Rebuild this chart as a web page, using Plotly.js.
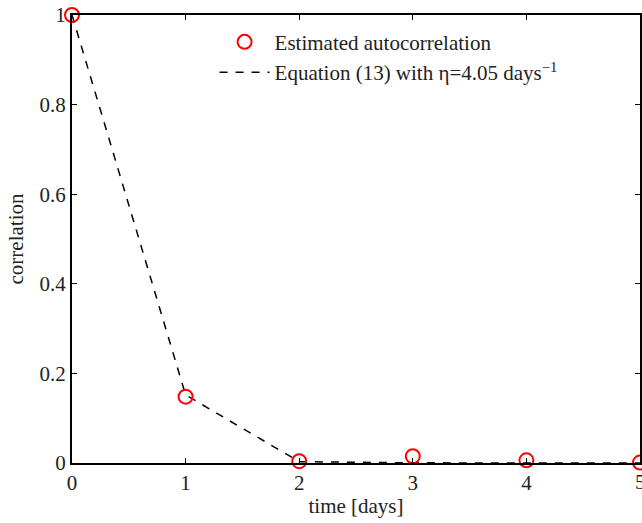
<!DOCTYPE html>
<html>
<head>
<meta charset="utf-8">
<script src="https://cdn.plot.ly/plotly-3.0.1.min.js"></script>
<style>html,body{margin:0;padding:0;background:#fff;}#plot{width:642px;height:523px;}</style>
</head>
<body>
<div id="plot"></div>
<script>
var timeDays = [0, 1, 2, 3, 4, 5];
var estimatedAutocorr = [1.0, 0.148, 0.004, 0.015, 0.006, 0.001];
var equationModel = [1.0, 0.152, 0.003, 0.0004, 0.0, 0.0];
var xTicks = [0, 1, 2, 3, 4];
var lastXTick = 5;
var yTicks = [0, 0.2, 0.4, 0.6, 0.8, 1];
var yTickLabels = ['0', '0.2', '0.4', '0.6', '0.8', '1'];

var font = '"Liberation Serif"';

var traces = [
  {
    x: timeDays, y: equationModel, mode: 'lines', type: 'scatter',
    name: 'Equation (13) with η=4.05 days<sup>−1</sup>',
    line: {color: '#000', width: 1.5, dash: '8px,8px'}
  },
  {
    x: timeDays, y: estimatedAutocorr, mode: 'markers', type: 'scatter',
    name: 'Estimated autocorrelation',
    marker: {symbol: 'circle-open', size: 14, color: '#ff0000', line: {width: 2, color: '#ff0000'}},
    cliponaxis: false
  }
];

var layout = {
  width: 642, height: 523,
  margin: {l: 72, r: 2, t: 15, b: 60},
  paper_bgcolor: '#fff', plot_bgcolor: '#fff',
  font: {family: font, size: 20, color: '#222'},
  showlegend: true,
  legend: {x: 0.251, y: 0.985, xanchor: 'left', yanchor: 'top', bgcolor: 'rgba(0,0,0,0)',
           traceorder: 'reversed',
           font: {family: font, size: 21, color: '#222'}, tracegroupgap: 0, itemwidth: 50},
  xaxis: {
    range: [0, 5], tickvals: xTicks.concat([lastXTick]), ticktext: xTicks.map(String).concat(['']),
    ticks: 'inside', ticklen: 5, tickwidth: 1, tickcolor: '#000',
    showline: true, linecolor: '#000', linewidth: 2, mirror: 'ticks',
    showgrid: false, zeroline: false,
    tickfont: {family: font, size: 21, color: '#222'},
    title: {text: 'time [days]', font: {family: font, size: 21, color: '#222'}, standoff: 4}
  },
  yaxis: {
    range: [0, 1], tickvals: yTicks, ticktext: yTickLabels,
    ticks: 'inside', ticklen: 5, tickwidth: 1, tickcolor: '#000',
    showline: true, linecolor: '#000', linewidth: 2, mirror: 'ticks',
    showgrid: false, zeroline: false,
    tickfont: {family: font, size: 21, color: '#222'},
    title: {text: 'correlation', font: {family: font, size: 21, color: '#222'}, standoff: 10}
  },
  annotations: [{
    xref: 'x', yref: 'paper', x: lastXTick, y: 0, yanchor: 'top', xanchor: 'center',
    text: String(lastXTick), showarrow: false, yshift: -5,
    font: {family: font, size: 21, color: '#222'}
  }]
};

Plotly.newPlot('plot', traces, layout, {staticPlot: true, displayModeBar: false});
</script>
</body>
</html>
